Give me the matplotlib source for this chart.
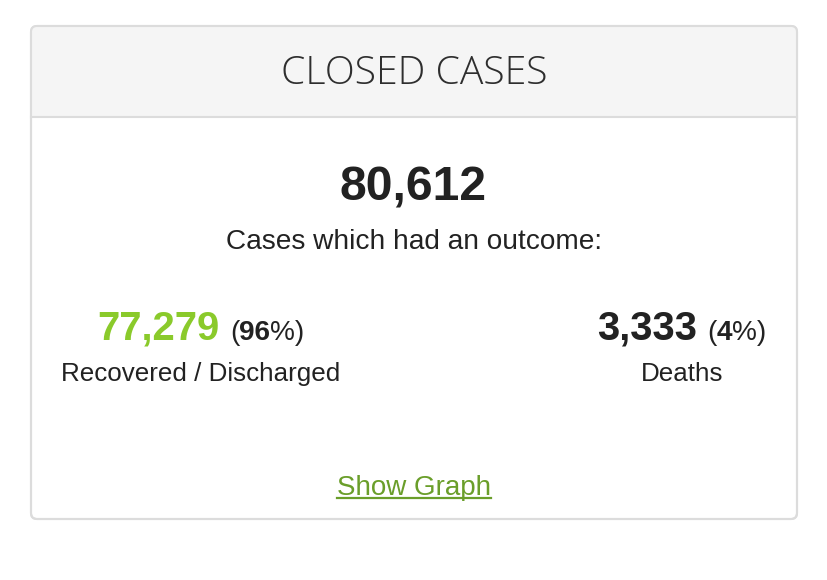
import matplotlib
matplotlib.use('Agg')
import matplotlib.pyplot as plt
from matplotlib.patches import FancyBboxPatch, Rectangle

# ---- data ----
title = "CLOSED CASES"
total_cases = "80,612"
subtitle = "Cases which had an outcome:"
outcome_labels = ["Recovered / Discharged", "Deaths"]
outcome_values = ["77,279", "3,333"]
outcome_pcts = ["96", "4"]
outcome_colors = ["#8aca2b", "#222222"]
link_text = "Show Graph"

FONT = ["Liberation Sans", "DejaVu Sans"]
TEXT = "#222222"

W, H = 828, 580
fig = plt.figure(figsize=(W / 100, H / 100), dpi=100)
ax = fig.add_axes([0, 0, 1, 1])
ax.set_xlim(0, W)
ax.set_ylim(H, 0)
ax.axis('off')


def px(p):
    return p * 0.72


# card
cx0, cy0, cw, ch = 31, 26, 766, 493
card = FancyBboxPatch((cx0, cy0), cw, ch, boxstyle="round,pad=0,rounding_size=6",
                      facecolor="white", edgecolor="#dcdcdc", linewidth=1.5, zorder=1)
ax.add_patch(card)
header = Rectangle((cx0, cy0), cw, 91, facecolor="#f5f5f5", edgecolor="none", zorder=2)
ax.add_patch(header)
header.set_clip_path(card)
ax.plot([cx0, cx0 + cw], [117, 117], color="#dcdcdc", linewidth=1.5, zorder=3)
card2 = FancyBboxPatch((cx0, cy0), cw, ch, boxstyle="round,pad=0,rounding_size=6",
                       facecolor="none", edgecolor="#dcdcdc", linewidth=1.5, zorder=4)
ax.add_patch(card2)

ht = ax.text(414, 84, title, ha='center', va='baseline', fontsize=px(36),
             family=["Open Sans", "Liberation Sans"], fontweight='light', color="#2e2e2e", zorder=5)
fig.canvas.draw()
hb = ht.get_window_extent(fig.canvas.get_renderer())
ht.set_fontsize(ht.get_fontsize() * 266.0 / hb.width)

ax.text(413, 201, total_cases, ha='center', va='baseline', fontsize=px(48),
        family=FONT, fontweight='bold', color=TEXT, zorder=5)
ax.text(414, 249, subtitle, ha='center', va='baseline', fontsize=px(28),
        family=FONT, color=TEXT, zorder=5)


def row(cx, y, pieces):
    texts = []
    gaps = []
    for s, size, weight, color, gap in pieces:
        t = ax.text(0, y, s, fontsize=px(size), fontweight=weight, color=color,
                    va='baseline', ha='left', family=FONT, zorder=5)
        texts.append(t)
        gaps.append(gap)
    fig.canvas.draw()
    r = fig.canvas.get_renderer()
    widths = [t.get_window_extent(r).width for t in texts]
    total = sum(widths) + sum(gaps)
    x = cx - total / 2
    for t, w, g in zip(texts, widths, gaps):
        x += g
        t.set_x(x)
        x += w


centers = [201, 682]
for c, lab, val, pct, col in zip(centers, outcome_labels, outcome_values, outcome_pcts, outcome_colors):
    row(c, 340, [(val, 40, 'bold', col, 0),
                 ("(", 28, 'normal', TEXT, 10),
                 (pct, 28, 'bold', TEXT, 0),
                 ("%)", 28, 'normal', TEXT, 0)])
    ax.text(c, 381, lab, ha='center', va='baseline', fontsize=px(26),
            family=FONT, color=TEXT, zorder=5)

lt = ax.text(414, 495, link_text, ha='center', va='baseline', fontsize=px(27.7),
             family=FONT, color="#6a9e2a", zorder=5)
fig.canvas.draw()
bb = lt.get_window_extent(fig.canvas.get_renderer())
x0d = ax.transData.inverted().transform((bb.x0, bb.y0))[0]
x1d = ax.transData.inverted().transform((bb.x1, bb.y0))[0]
ax.plot([x0d, x1d], [498, 498], color="#6a9e2a", linewidth=1.6, zorder=5)

fig.savefig("out.png", dpi=100)
